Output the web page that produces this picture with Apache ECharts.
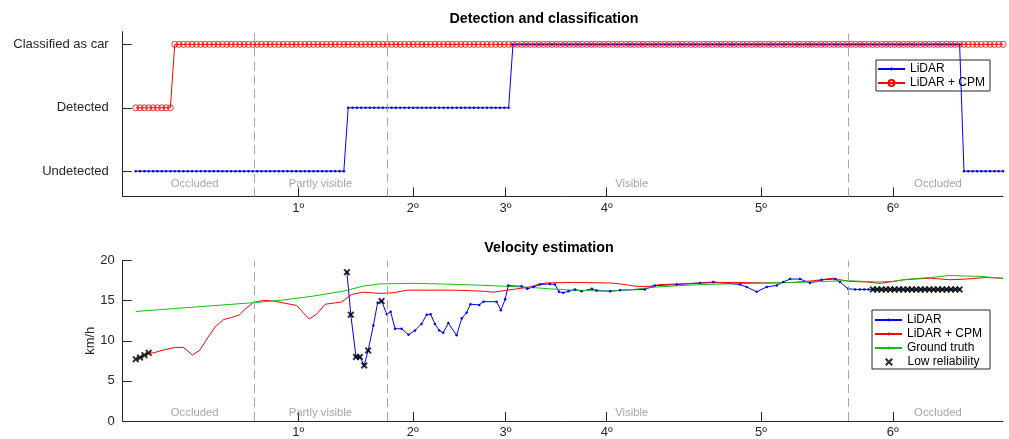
<!DOCTYPE html>
<html><head><meta charset="utf-8">
<script src="https://cdn.jsdelivr.net/npm/echarts@6/dist/echarts.min.js"></script>
<style>html,body{margin:0;padding:0;background:#fff}#c{width:1009px;height:439px}</style>
</head><body><div id="c"></div>
<script>
// ---- data ----
const tickPositions = [4.05, 6.69, 8.83, 11.16, 14.72, 17.76];
const tickLabels = ['1º', '2º', '3º', '4º', '5º', '6º'];
const phaseBoundaries = [3.03, 6.09, 16.73];
const phaseNames = ['Occluded', 'Partly visible', 'Visible', 'Occluded'];
const phaseLabelPos = [1.66, 4.56, 11.74, 18.80];
const detectionLevels = ['Undetected', 'Detected', 'Classified as car'];
const sampleStart = 0.3, samplePeriod = 0.1;

const lidarDetection = [
  0,0,0,0,0,0,0,0,0,0,0,0,0,0,0,0,0,0,0,0,
  0,0,0,0,0,0,0,0,0,0,0,0,0,0,0,0,0,0,0,0,
  0,0,0,0,0,0,0,0,0,1,1,1,1,1,1,1,1,1,1,1,
  1,1,1,1,1,1,1,1,1,1,1,1,1,1,1,1,1,1,1,1,
  1,1,1,1,1,1,1,2,2,2,2,2,2,2,2,2,2,2,2,2,
  2,2,2,2,2,2,2,2,2,2,2,2,2,2,2,2,2,2,2,2,
  2,2,2,2,2,2,2,2,2,2,2,2,2,2,2,2,2,2,2,2,
  2,2,2,2,2,2,2,2,2,2,2,2,2,2,2,2,2,2,2,2,
  2,2,2,2,2,2,2,2,2,2,2,2,2,2,2,2,2,2,2,2,
  2,2,2,2,2,2,2,2,2,2,2,0,0,0,0,0,0,0,0,0,
  0
];
const cpmDetection = [
  1,1,1,1,1,1,1,1,1,2,2,2,2,2,2,2,2,2,2,2,
  2,2,2,2,2,2,2,2,2,2,2,2,2,2,2,2,2,2,2,2,
  2,2,2,2,2,2,2,2,2,2,2,2,2,2,2,2,2,2,2,2,
  2,2,2,2,2,2,2,2,2,2,2,2,2,2,2,2,2,2,2,2,
  2,2,2,2,2,2,2,2,2,2,2,2,2,2,2,2,2,2,2,2,
  2,2,2,2,2,2,2,2,2,2,2,2,2,2,2,2,2,2,2,2,
  2,2,2,2,2,2,2,2,2,2,2,2,2,2,2,2,2,2,2,2,
  2,2,2,2,2,2,2,2,2,2,2,2,2,2,2,2,2,2,2,2,
  2,2,2,2,2,2,2,2,2,2,2,2,2,2,2,2,2,2,2,2,
  2,2,2,2,2,2,2,2,2,2,2,2,2,2,2,2,2,2,2,2,
  2
];

const lidarVelocity = [
  [5.17,18.55],[5.26,13.24],[5.38,7.98],[5.47,7.98],[5.57,6.93],[5.66,8.8],[5.78,11.9],[5.88,14.75],
  [5.97,14.95],[6.09,13.3],[6.18,13.6],[6.28,11.5],[6.43,11.5],[6.59,10.76],[6.74,11.28],[6.89,12.1],
  [7.01,13.24],[7.10,13.3],[7.20,12.1],[7.30,11.28],[7.39,11.0],[7.51,12.2],[7.70,10.67],[7.82,12.8],
  [7.93,13.5],[8.02,14.55],[8.22,14.47],[8.32,14.87],[8.62,14.87],[8.72,13.8],[8.82,15.16],[8.89,16.87],
  [9.20,16.78],[9.33,16.47],[9.47,16.7],[9.62,17.0],[9.85,17.08],[9.97,17.0],[10.06,16.1],[10.16,15.98],
  [10.28,16.17],[10.43,16.4],[10.58,16.17],[10.82,16.47],[10.93,16.26],[11.24,16.17],[11.47,16.3],[12.04,16.4],
  [12.27,16.87],[12.78,17.0],[13.31,17.2],[13.62,17.32],[14.24,17.0],[14.39,16.7],[14.62,16.1],[14.85,16.7],
  [15.08,16.9],[15.23,17.32],[15.39,17.69],[15.62,17.69],[15.85,17.2],[16.12,17.6],[16.43,17.69],[16.54,17.32],
  [16.73,16.47],[16.89,16.4],[17.0,16.4],[17.1,16.4],[17.2,16.4],[17.3,16.4],[17.4,16.4],[17.5,16.4],
  [17.6,16.4],[17.7,16.4],[17.8,16.4],[17.9,16.4],[18.0,16.4],[18.1,16.4],[18.2,16.4],[18.3,16.4],
  [18.4,16.4],[18.5,16.4],[18.6,16.4],[18.7,16.4],[18.8,16.4],[18.9,16.4],[19.0,16.4],[19.1,16.4],
  [19.2,16.4],[19.3,16.4]
];
const cpmVelocity = [
  [0.3,7.7],[0.4,7.9],[0.5,8.2],[0.6,8.5],[0.70,8.47],[0.93,8.84],[1.21,9.17],[1.40,9.17],
  [1.61,8.23],[1.78,8.84],[1.97,10.47],[2.13,11.7],[2.32,12.63],[2.51,12.9],[2.70,13.24],[2.82,13.94],
  [3.01,14.75],[3.24,15.03],[3.47,14.95],[3.86,14.55],[4.01,14.4],[4.30,12.7],[4.47,13.3],[4.67,14.55],
  [5.05,14.83],[5.28,15.77],[5.55,16.05],[5.93,15.9],[6.24,15.98],[6.55,16.3],[7.09,16.3],[7.70,16.3],
  [8.32,16.17],[8.55,16.05],[8.74,16.2],[9.09,16.47],[9.39,16.7],[9.62,17.08],[9.78,17.2],[10.39,17.27],
  [11.24,17.2],[11.47,17.08],[11.85,16.78],[12.16,16.78],[12.39,17.0],[12.93,17.1],[13.31,17.2],[14.08,17.27],
  [14.93,17.2],[15.46,17.27],[15.93,17.48],[16.39,17.8],[16.54,17.6],[16.77,17.4],[17.16,17.32],[17.46,17.15],
  [17.69,17.32],[18.00,17.6],[18.62,17.8],[19.08,17.6],[19.46,17.69],[19.92,17.88],[20.30,17.8]
];
const groundTruth = [
  [0.3,13.65],[3.03,14.75],[3.63,15.03],[4.39,15.56],[5.08,16.17],[5.54,16.8],[5.93,17.08],[6.69,17.15],
  [7.32,17.08],[8.08,16.95],[8.86,16.78],[9.39,16.66],[9.85,16.47],[10.38,16.3],[11.24,16.17],[11.77,16.4],
  [12.32,16.7],[13.31,17.0],[14.07,17.1],[14.93,17.2],[15.85,17.32],[16.24,17.4],[16.73,17.48],[17.39,17.32],
  [17.76,17.4],[18.16,17.69],[18.62,17.88],[19.08,18.13],[19.84,18.0],[20.30,17.75]
];
const lowReliability = [
  [0.3,7.7],[0.4,7.9],[0.5,8.2],[0.6,8.5],
  [5.17,18.55],[5.26,13.24],[5.38,7.98],[5.47,7.98],[5.57,6.93],[5.66,8.8],[5.97,14.95],
  [17.3,16.4],[17.4,16.4],[17.5,16.4],[17.6,16.4],[17.7,16.4],[17.8,16.4],[17.9,16.4],[18.0,16.4],
  [18.1,16.4],[18.2,16.4],[18.3,16.4],[18.4,16.4],[18.5,16.4],[18.6,16.4],[18.7,16.4],[18.8,16.4],
  [18.9,16.4],[19.0,16.4],[19.1,16.4],[19.2,16.4],[19.3,16.4]
];

// ---- chart ----
const FONT = "'Liberation Sans', Arial, Helvetica, sans-serif";
const AX = '#262626';
const xMin = 0, xMax = 20.3;
const chart = echarts.init(document.getElementById('c'), null, {renderer: 'canvas'});

function xAxisCfg(gridIndex) {
  return {
    type: 'value', gridIndex, min: xMin, max: xMax,
    axisLine: {show: true, onZero: false, lineStyle: {color: AX, width: 1}},
    axisTick: {show: true, inside: true, length: 9, customValues: tickPositions, lineStyle: {color: AX, width: 1}},
    axisLabel: {
      customValues: tickPositions, margin: 5, fontSize: 13, color: AX, fontFamily: FONT,
      formatter: v => {
        let best = 0;
        tickPositions.forEach((p, i) => { if (Math.abs(p - v) < Math.abs(tickPositions[best] - v)) best = i; });
        return tickLabels[best];
      }
    },
    splitLine: {show: false}
  };
}
const xShape = 'path://M2,0 L5,3 L8,0 L10,2 L7,5 L10,8 L8,10 L5,7 L2,10 L0,8 L3,5 L0,2 Z';
function dashed() {
  return {
    silent: true, symbol: ['none', 'none'], label: {show: false},
    lineStyle: {type: [9, 5], color: '#a6a6a6', width: 1},
    data: phaseBoundaries.map(x => ({xAxis: x}))
  };
}
function phaseSeries(axisIdx, yPos) {
  return {
    type: 'scatter', name: 'phases' + axisIdx, xAxisIndex: axisIdx, yAxisIndex: axisIdx,
    silent: true, symbolSize: 1, itemStyle: {color: 'rgba(0,0,0,0)'},
    data: phaseLabelPos.map((x, i) => [x, yPos, phaseNames[i]]),
    label: {show: true, position: 'inside', formatter: p => p.value[2], color: '#8f8f8f', fontSize: 11.3, fontFamily: FONT}
  };
}
function legendPart(left, top, itemHeight, data) {
  return {
    orient: 'vertical', left, top, itemWidth: 27, itemHeight, itemGap: 0, padding: 0,
    selectedMode: false, backgroundColor: 'rgba(0,0,0,0)',
    textStyle: {fontSize: 12, lineHeight: 14, color: '#000', fontFamily: FONT},
    formatter: n => n.replace(' (v)', ''), data
  };
}

chart.setOption({
  animation: false,
  title: [
    {text: 'Detection and classification', left: 544, top: 12, textAlign: 'center', padding: 0,
     textStyle: {fontSize: 14.3, fontWeight: 'bold', color: '#000', fontFamily: FONT}},
    {text: 'Velocity estimation', left: 549, top: 241, textAlign: 'center', padding: 0,
     textStyle: {fontSize: 14.3, fontWeight: 'bold', color: '#000', fontFamily: FONT}}
  ],
  graphic: [
    {type: 'rect', z: 3, shape: {x: 876, y: 60, width: 114, height: 31},
     style: {fill: '#fff', stroke: AX, lineWidth: 1}},
    {type: 'rect', z: 3, shape: {x: 872, y: 310, width: 118, height: 59},
     style: {fill: '#fff', stroke: AX, lineWidth: 1}}
  ],
  legend: [
    legendPart(877, 62, 3.5, ['LiDAR']),
    legendPart(877, 76, 7.5, ['LiDAR + CPM']),
    legendPart(874, 313, 3.5, ['LiDAR (v)', 'LiDAR + CPM (v)', 'Ground truth']),
    legendPart(885, 355, 8, ['Low reliability'])
  ],
  grid: [
    {left: 122.7, right: 6, top: 31.7, height: 164.8, containLabel: false},
    {left: 122.7, right: 6, top: 260.5, height: 163.5, containLabel: false}
  ],
  xAxis: [xAxisCfg(0), xAxisCfg(1)],
  yAxis: [
    {type: 'value', gridIndex: 0, min: -0.4, max: 2.2,
     axisLine: {show: true, onZero: false, lineStyle: {color: AX, width: 1}},
     axisTick: {show: true, inside: true, length: 9, customValues: [0, 1, 2], lineStyle: {color: AX}},
     axisLabel: {customValues: [0, 1, 2], formatter: v => detectionLevels[Math.round(v)], margin: 14,
                 fontSize: 13, color: AX, fontFamily: FONT},
     splitLine: {show: false}},
    {type: 'value', gridIndex: 1, min: 0, max: 20, interval: 5,
     name: 'km/h', nameLocation: 'middle', nameGap: 26, nameMoveOverlap: false,
     nameTextStyle: {fontSize: 13, color: AX, fontFamily: FONT},
     axisLine: {show: true, onZero: false, lineStyle: {color: AX, width: 1}},
     axisTick: {show: true, inside: true, length: 9, lineStyle: {color: AX}},
     axisLabel: {margin: 8, fontSize: 13, color: AX, fontFamily: FONT},
     splitLine: {show: false}}
  ],
  series: [
    {name: 'LiDAR', type: 'line', xAxisIndex: 0, yAxisIndex: 0,
     data: lidarDetection.map((s, i) => [sampleStart + i * samplePeriod, s]),
     symbol: 'circle', symbolSize: 2.5, showSymbol: true,
     lineStyle: {color: '#0000ff', width: 1}, itemStyle: {color: '#0000ff'},
     markLine: dashed()},
    {name: 'LiDAR + CPM', type: 'line', xAxisIndex: 0, yAxisIndex: 0,
     data: cpmDetection.map((s, i) => [sampleStart + i * samplePeriod, s]),
     symbol: 'circle', symbolSize: 6, showSymbol: true,
     lineStyle: {color: '#ff0000', width: 1},
     itemStyle: {color: 'rgba(255,255,255,0)', borderColor: '#ff0000', borderWidth: 0.8}},
    phaseSeries(0, -0.2),

    {name: 'LiDAR (v)', type: 'line', xAxisIndex: 1, yAxisIndex: 1, data: lidarVelocity,
     symbol: 'circle', symbolSize: 2.5, showSymbol: true,
     lineStyle: {color: '#0000ff', width: 1}, itemStyle: {color: '#0000ff'},
     markLine: dashed()},
    {name: 'LiDAR + CPM (v)', type: 'line', xAxisIndex: 1, yAxisIndex: 1, data: cpmVelocity,
     symbol: 'circle', symbolSize: 2, showSymbol: false,
     lineStyle: {color: '#ff0000', width: 1}, itemStyle: {color: '#ff0000'}},
    {name: 'Ground truth', type: 'line', xAxisIndex: 1, yAxisIndex: 1, data: groundTruth,
     symbol: 'circle', symbolSize: 2, showSymbol: false,
     lineStyle: {color: '#10c010', width: 1}, itemStyle: {color: '#10c010'}},
    {name: 'Low reliability', type: 'scatter', xAxisIndex: 1, yAxisIndex: 1, data: lowReliability,
     symbol: xShape, symbolSize: 7, itemStyle: {color: '#000'}, z: 5},
    phaseSeries(1, 1)
  ]
});
</script></body></html>
